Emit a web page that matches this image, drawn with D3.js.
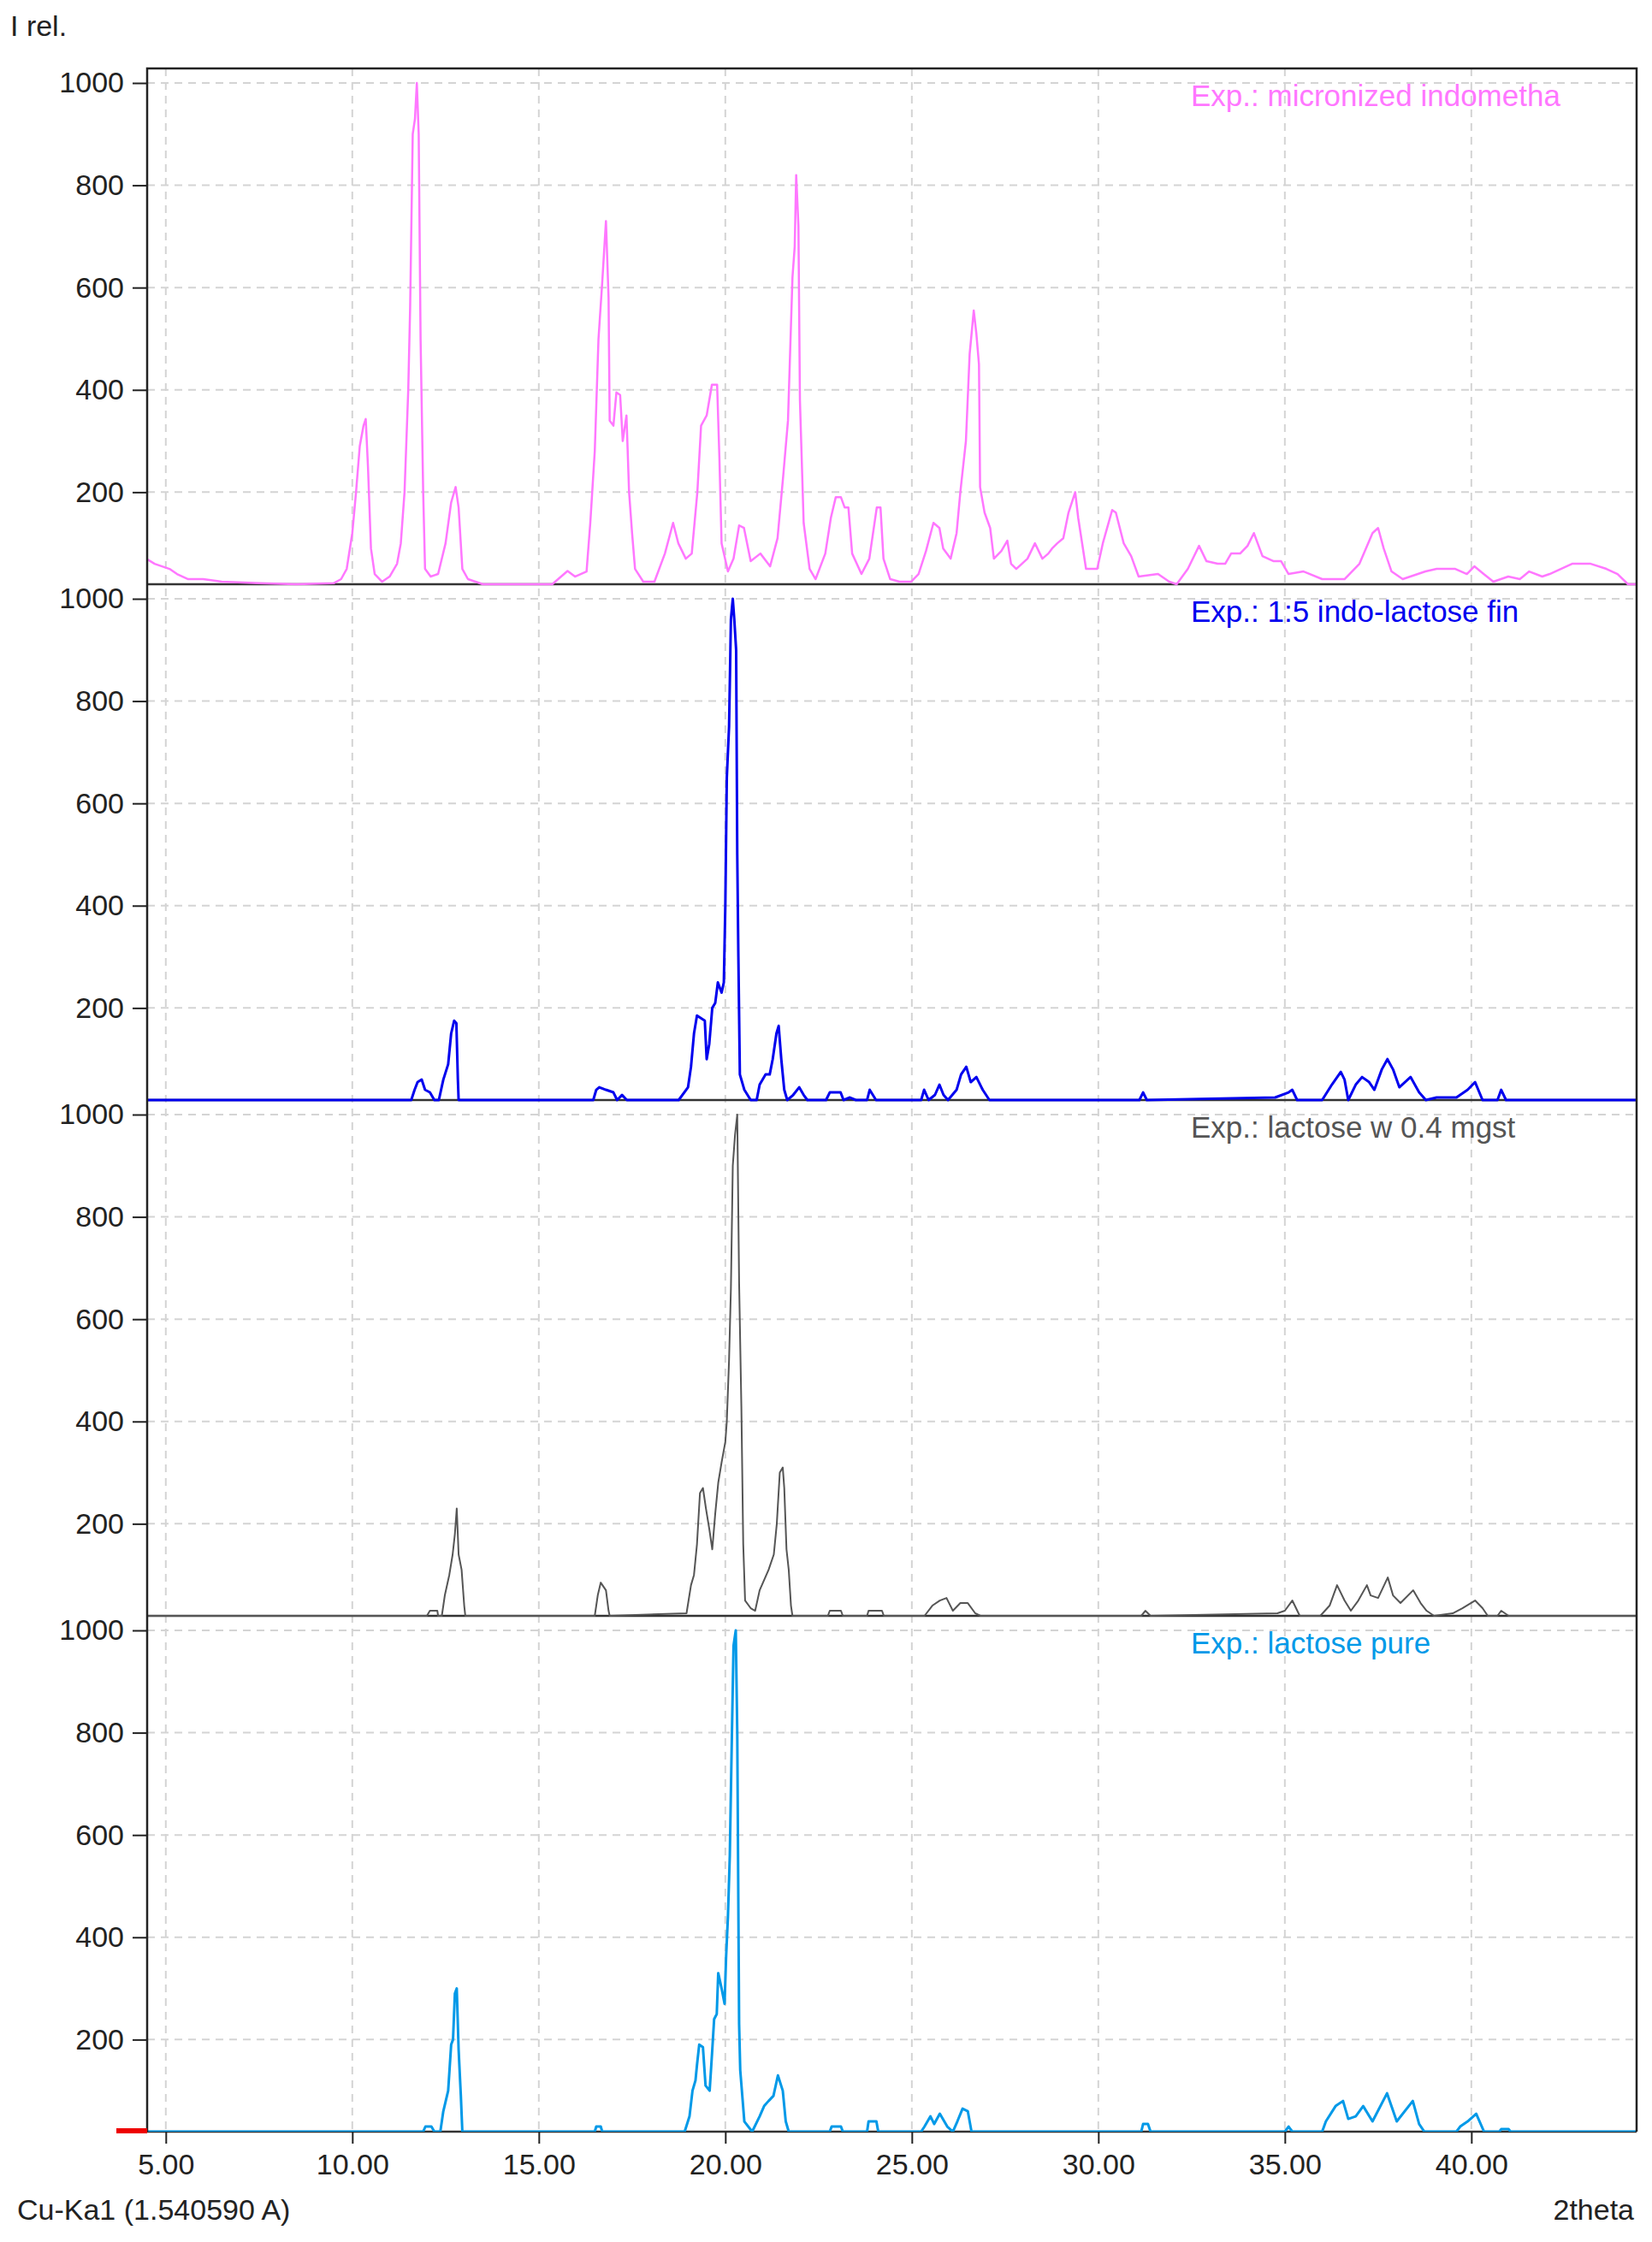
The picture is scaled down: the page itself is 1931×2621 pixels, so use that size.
<!DOCTYPE html>
<html>
<head>
<meta charset="utf-8">
<script src="https://cdn.jsdelivr.net/npm/d3@7"></script>
<style>
  body { margin: 0; background: #fff; }
  svg { font-family: "Liberation Sans", Arial, sans-serif; }
</style>
</head>
<body>
<script>
// 2theta / relative intensity
const indomethacin = [[4.5,69],[4.7,60],[4.9,55],[5.1,50],[5.3,40],[5.6,30],[6.0,30],[6.5,25],[7.5,22],[8.5,20],[9.5,22],[9.7,30],[9.85,50],[10.0,120],[10.1,200],[10.2,290],[10.3,330],[10.36,343],[10.42,250],[10.5,90],[10.6,40],[10.8,25],[11.0,35],[11.2,60],[11.3,100],[11.4,200],[11.5,400],[11.55,560],[11.62,900],[11.68,930],[11.73,1000],[11.78,900],[11.83,500],[11.9,200],[11.95,50],[12.1,35],[12.3,40],[12.5,100],[12.65,180],[12.77,210],[12.85,170],[12.95,50],[13.1,30],[13.5,20],[14.5,20],[15.36,20],[15.77,46],[15.97,35],[16.28,45],[16.38,140],[16.5,280],[16.6,500],[16.7,610],[16.8,730],[16.87,580],[16.9,340],[17.0,330],[17.08,395],[17.18,390],[17.25,300],[17.35,350],[17.42,200],[17.5,120],[17.58,50],[17.8,25],[18.1,25],[18.38,80],[18.6,140],[18.74,100],[18.94,70],[19.1,80],[19.25,200],[19.35,330],[19.5,350],[19.64,410],[19.78,410],[19.84,270],[19.9,100],[20.07,45],[20.22,70],[20.37,135],[20.5,130],[20.68,65],[20.94,80],[21.2,55],[21.4,110],[21.55,230],[21.68,340],[21.8,620],[21.86,680],[21.9,820],[21.96,720],[22.0,380],[22.1,140],[22.26,50],[22.42,30],[22.68,80],[22.83,150],[22.96,190],[23.1,190],[23.2,170],[23.3,170],[23.4,80],[23.65,40],[23.86,70],[23.96,120],[24.06,170],[24.16,170],[24.24,70],[24.42,30],[24.67,25],[24.98,25],[25.18,40],[25.38,85],[25.58,140],[25.74,130],[25.84,90],[26.04,70],[26.2,120],[26.3,200],[26.45,300],[26.55,470],[26.66,555],[26.73,510],[26.8,450],[26.83,210],[26.95,160],[27.1,130],[27.2,70],[27.4,85],[27.56,105],[27.66,60],[27.8,50],[28.1,70],[28.3,100],[28.5,70],[28.66,80],[28.76,90],[28.9,100],[29.06,110],[29.2,160],[29.38,200],[29.46,150],[29.67,50],[29.97,50],[30.12,100],[30.37,165],[30.47,160],[30.68,100],[30.88,75],[31.08,35],[31.6,40],[31.9,25],[32.1,20],[32.4,50],[32.7,95],[32.9,65],[33.2,60],[33.4,60],[33.56,80],[33.8,80],[34.0,95],[34.17,120],[34.4,75],[34.7,65],[34.9,65],[35.1,40],[35.5,45],[36.0,30],[36.6,30],[37.0,60],[37.35,120],[37.5,130],[37.65,90],[37.86,45],[38.16,30],[38.77,45],[39.07,50],[39.57,50],[39.88,40],[40.08,55],[40.33,40],[40.59,25],[40.99,35],[41.3,30],[41.55,45],[41.9,35],[42.1,40],[42.7,60],[43.2,60],[43.62,50],[43.92,40],[44.2,20],[44.43,20]];

const indoLactose = [[4.5,20],[11.58,20],[11.67,40],[11.75,55],[11.86,60],[11.95,40],[12.08,35],[12.2,20],[12.32,20],[12.44,60],[12.57,90],[12.65,150],[12.73,175],[12.79,170],[12.83,60],[12.85,20],[16.46,20],[16.54,40],[16.62,45],[16.8,40],[17.0,35],[17.1,20],[17.23,30],[17.36,20],[18.75,20],[19.0,45],[19.08,85],[19.16,150],[19.24,185],[19.45,175],[19.5,100],[19.57,130],[19.65,200],[19.73,210],[19.8,250],[19.9,230],[19.96,250],[20.0,400],[20.04,650],[20.1,750],[20.15,960],[20.2,1000],[20.24,960],[20.29,900],[20.32,500],[20.35,300],[20.39,70],[20.51,40],[20.68,20],[20.84,20],[20.92,50],[21.08,70],[21.19,70],[21.27,100],[21.37,150],[21.43,165],[21.5,100],[21.58,40],[21.66,20],[21.82,30],[21.98,45],[22.1,30],[22.2,20],[22.7,20],[22.8,35],[23.09,35],[23.17,20],[23.34,25],[23.5,20],[23.8,20],[23.87,40],[24.04,20],[25.25,20],[25.33,40],[25.45,20],[25.62,30],[25.74,50],[25.85,30],[25.97,20],[26.2,40],[26.32,70],[26.46,85],[26.58,55],[26.73,65],[26.9,40],[27.08,20],[31.1,20],[31.2,35],[31.3,20],[34.74,25],[35.1,35],[35.2,40],[35.33,20],[36.0,20],[36.26,50],[36.5,75],[36.6,60],[36.7,20],[36.9,50],[37.07,65],[37.26,55],[37.4,40],[37.6,80],[37.75,100],[37.9,80],[38.07,45],[38.37,65],[38.6,35],[38.78,20],[39.07,25],[39.6,25],[39.9,40],[40.1,55],[40.3,20],[40.7,20],[40.8,40],[40.93,20],[44.43,20]];

const lactoseMgst = [[4.5,20],[12.0,20],[12.08,30],[12.28,30],[12.3,20],[12.4,20],[12.48,60],[12.6,100],[12.69,140],[12.75,180],[12.8,230],[12.85,140],[12.93,110],[13.0,40],[13.03,20],[16.5,20],[16.58,60],[16.66,85],[16.8,70],[16.87,30],[16.9,20],[18.96,25],[19.08,80],[19.16,100],[19.24,160],[19.32,260],[19.4,270],[19.48,230],[19.57,190],[19.65,150],[19.73,220],[19.81,280],[19.9,320],[20.0,360],[20.04,400],[20.1,520],[20.15,660],[20.2,900],[20.26,960],[20.32,1000],[20.37,670],[20.43,430],[20.48,160],[20.53,50],[20.68,35],[20.8,30],[20.92,70],[21.04,90],[21.16,110],[21.3,140],[21.38,200],[21.46,300],[21.54,310],[21.58,270],[21.64,150],[21.7,110],[21.76,40],[21.8,20],[22.75,20],[22.8,30],[23.1,30],[23.15,20],[23.8,20],[23.84,30],[24.2,30],[24.25,20],[25.34,20],[25.55,40],[25.75,50],[25.93,55],[26.1,30],[26.3,45],[26.5,45],[26.7,25],[26.84,20],[31.15,20],[31.26,30],[31.4,20],[34.8,25],[35.0,30],[35.2,50],[35.4,20],[35.95,20],[36.2,40],[36.4,80],[36.6,50],[36.77,30],[36.97,50],[37.2,80],[37.3,60],[37.5,55],[37.76,95],[37.9,60],[38.1,45],[38.44,70],[38.64,45],[38.8,30],[39.0,20],[39.5,25],[39.76,35],[40.1,50],[40.3,35],[40.44,20],[40.7,20],[40.8,30],[41.0,20],[44.43,20]];

const lactosePure = [[4.5,20],[11.9,20],[11.96,30],[12.12,30],[12.2,20],[12.36,20],[12.44,60],[12.57,100],[12.65,190],[12.7,200],[12.75,290],[12.8,300],[12.85,180],[12.91,90],[12.95,20],[16.5,20],[16.54,30],[16.66,30],[16.7,20],[18.91,20],[19.04,50],[19.12,100],[19.2,120],[19.24,150],[19.3,190],[19.4,185],[19.47,110],[19.58,100],[19.65,180],[19.7,240],[19.77,250],[19.81,330],[19.9,300],[19.98,270],[20.02,360],[20.07,440],[20.12,560],[20.17,770],[20.22,970],[20.28,1000],[20.32,800],[20.37,230],[20.4,140],[20.51,40],[20.72,20],[20.92,50],[21.04,70],[21.16,80],[21.29,90],[21.41,130],[21.54,100],[21.62,40],[21.7,20],[22.8,20],[22.85,30],[23.1,30],[23.15,20],[23.8,20],[23.84,40],[24.05,40],[24.1,20],[25.25,20],[25.34,30],[25.5,50],[25.6,35],[25.75,55],[25.95,30],[26.1,20],[26.22,40],[26.36,65],[26.5,60],[26.6,20],[31.15,20],[31.2,35],[31.33,35],[31.4,20],[35.0,20],[35.1,30],[35.2,20],[36.0,20],[36.1,40],[36.36,70],[36.56,80],[36.7,45],[36.9,50],[37.1,70],[37.35,40],[37.74,95],[38.0,40],[38.43,80],[38.6,35],[38.74,20],[39.6,20],[39.7,30],[39.9,40],[40.13,55],[40.34,20],[40.75,20],[40.8,25],[41.0,25],[41.05,20],[44.43,20]];

const seriesNames = ["Exp.: micronized indometha", "Exp.: 1:5 indo-lactose fin", "Exp.: lactose w 0.4 mgst", "Exp.: lactose pure"];
const seriesColors = ["#ff77ff", "#0000ee", "#555555", "#0099e8"];
const seriesWidths = [2.5, 3, 2, 3];
const seriesData = [indomethacin, indoLactose, lactoseMgst, lactosePure];
const yTicks = [200, 400, 600, 800, 1000];
const xTicks = [5, 10, 15, 20, 25, 30, 35, 40];

const W = 1931, H = 2621;
const plotL = 172, plotR = 1913, plotT = 80, panelH = 603;
const plotB = plotT + panelH * 4;

const svg = d3.select("body").append("svg").attr("width", W).attr("height", H);

const x = d3.scaleLinear().domain([4.5, 44.43]).range([plotL, plotR]);

svg.append("defs").append("clipPath").attr("id", "plot")
  .append("rect").attr("x", plotL).attr("y", plotT).attr("width", plotR - plotL).attr("height", plotB - plotT);

// vertical grid over the whole plot
svg.append("g").selectAll("line").data(xTicks).join("line")
  .attr("x1", d => x(d)).attr("x2", d => x(d))
  .attr("y1", plotT).attr("y2", plotB)
  .attr("stroke", "#d4d4d4").attr("stroke-width", 2).attr("stroke-dasharray", "9,7");

seriesData.forEach((data, i) => {
  const pTop = plotT + panelH * i, pBot = pTop + panelH;
  const y = d3.scaleLinear().domain([20, 1000]).range([pBot, pTop + 17]);
  const g = svg.append("g");

  g.selectAll("line.grid").data(yTicks).join("line").attr("class", "grid")
    .attr("x1", plotL).attr("x2", plotR)
    .attr("y1", d => y(d)).attr("y2", d => y(d))
    .attr("stroke", "#d4d4d4").attr("stroke-width", 2).attr("stroke-dasharray", "9,7");

  const axis = g.append("g").attr("transform", `translate(${plotL},0)`)
    .call(d3.axisLeft(y).tickValues(yTicks).tickFormat(d3.format("d")).tickSize(17).tickPadding(10));
  axis.select(".domain").remove();
  axis.selectAll("line").attr("stroke", "#222").attr("stroke-width", 2);
  axis.selectAll("text").attr("font-size", 34).attr("fill", "#222")
    .attr("font-family", "'Liberation Sans', Arial, sans-serif");

  g.append("line").attr("x1", plotL).attr("x2", plotR).attr("y1", pBot).attr("y2", pBot)
    .attr("stroke", "#333").attr("stroke-width", 2.5);

  g.append("path").datum(data)
    .attr("clip-path", "url(#plot)")
    .attr("fill", "none").attr("stroke", seriesColors[i]).attr("stroke-width", seriesWidths[i])
    .attr("stroke-linejoin", "round")
    .attr("d", d3.line().x(d => x(d[0])).y(d => y(d[1])));

  g.append("text").attr("x", 1392).attr("y", pTop + 44)
    .attr("font-size", 35).attr("fill", seriesColors[i]).text(seriesNames[i]);
});

// frame
svg.append("path")
  .attr("d", `M${plotL},${plotB}V${plotT}H${plotR}V${plotB}`)
  .attr("fill", "none").attr("stroke", "#222").attr("stroke-width", 2.5);

// red marker at origin
svg.append("line").attr("x1", 136).attr("x2", plotL).attr("y1", plotB - 1).attr("y2", plotB - 1)
  .attr("stroke", "#ee0000").attr("stroke-width", 6);

const xAxis = svg.append("g").attr("transform", `translate(0,${plotB})`)
  .call(d3.axisBottom(x).tickValues(xTicks).tickFormat(d3.format(".2f")).tickSize(14).tickPadding(12));
xAxis.select(".domain").remove();
xAxis.selectAll("line").attr("stroke", "#222").attr("stroke-width", 2);
xAxis.selectAll("text").attr("font-size", 34).attr("fill", "#222")
  .attr("font-family", "'Liberation Sans', Arial, sans-serif");

svg.append("text").attr("x", 12).attr("y", 42).attr("font-size", 34).attr("fill", "#222").text("I rel.");
svg.append("text").attr("x", 20).attr("y", 2595).attr("font-size", 34).attr("fill", "#222").text("Cu-Ka1 (1.540590 A)");
svg.append("text").attr("x", 1910).attr("y", 2595).attr("text-anchor", "end").attr("font-size", 34).attr("fill", "#222").text("2theta");
</script>
</body>
</html>
